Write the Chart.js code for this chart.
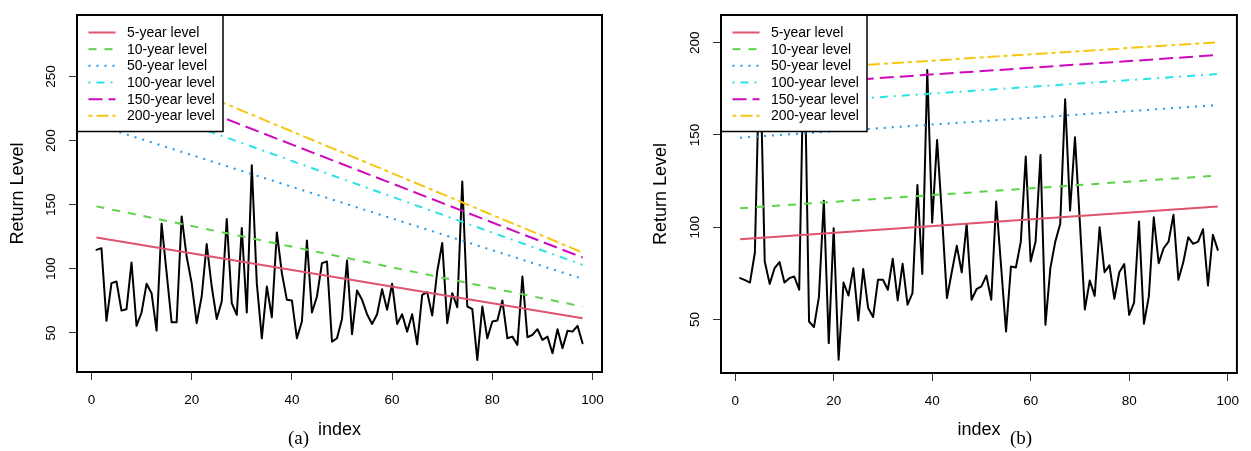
<!DOCTYPE html>
<html>
<head>
<meta charset="utf-8">
<script src="https://cdn.jsdelivr.net/npm/chart.js@4.4.0/dist/chart.umd.min.js"></script>
<style>
  body { margin: 0; background: #fff; width: 1251px; height: 451px; overflow: hidden; position: relative; }
  .panel { position: absolute; top: 0; height: 451px; }
  #panelA { left: 0; width: 625px; }
  #panelB { left: 625px; width: 626px; }
  .cap { position: absolute; font-family: "Liberation Serif", "Times New Roman", serif; font-size: 19px; color: #000; }
</style>
</head>
<body>
<div class="panel" id="panelA"><canvas id="chartA" width="625" height="451"></canvas></div>
<div class="panel" id="panelB"><canvas id="chartB" width="626" height="451"></canvas></div>
<div class="cap" style="left:288px; top:427px;">(a)</div>
<div class="cap" style="left:1010px; top:427px;">(b)</div>
<script>
// ---- data ----
const index = Array.from({ length: 98 }, (_, k) => k + 1);
const levelIndex = [1, 98];   // return-level lines are straight, so start and end only

// panel (a)
const seriesA = [
  114.8, 116.1, 59.4, 88.8, 90.1, 67.4, 68.5, 104.9, 55.5, 65.9,
  88.3, 81.0, 51.8, 135.2, 97.0, 58.3, 58.3, 140.9, 109.6, 88.8,
  57.6, 78.4, 119.3, 86.2, 60.9, 74.5, 138.8, 73.2, 64.1, 131.8,
  65.9, 180.7, 88.8, 45.8, 86.2, 62.2, 128.4, 96.6, 75.8, 75.3,
  45.8, 58.9, 122.1, 65.9, 78.4, 104.4, 105.7, 43.2, 45.8, 60.9,
  106.5, 49.0, 83.1, 75.8, 64.6, 57.0, 64.6, 84.1, 68.0, 88.3,
  57.0, 64.6, 51.0, 64.6, 41.1, 79.7, 81.8, 63.5, 97.9, 120.1,
  57.6, 81.0, 70.0, 168.2, 70.6, 68.5, 28.9, 70.6, 45.8, 58.9,
  59.6, 75.3, 45.8, 47.1, 40.6, 94.0, 46.6, 48.4, 52.9, 44.5,
  47.1, 34.1, 52.9, 38.0, 51.6, 51.0, 55.5, 41.9
];
const lev5A = [124.5, 61.5];
const lev10A = [148.7, 70.5];
const lev50A = [212.3, 92.2];
const lev100A = [238.7, 103.1];
const lev150A = [256.2, 108.8];
const lev200A = [270.7, 112.7];
const yTicksA = [50, 100, 150, 200, 250];

// panel (b)
const seriesB = [
  72.4, 71.3, 70.0, 86.3, 200.0, 81.4, 69.3, 77.8, 81.1, 70.0,
  72.4, 73.3, 66.1, 207.0, 48.9, 45.9, 62.1, 114.4, 37.2, 99.5,
  28.2, 70.0, 63.0, 77.8, 49.5, 77.3, 56.2, 51.3, 71.5, 71.5,
  66.1, 82.9, 60.3, 80.2, 58.0, 64.3, 122.9, 74.7, 185.2, 102.5,
  147.3, 105.8, 61.6, 76.0, 89.9, 75.5, 101.8, 60.7, 66.4, 67.9,
  73.8, 60.7, 113.9, 78.7, 43.5, 78.7, 78.2, 92.2, 138.3, 81.4,
  92.2, 139.2, 47.1, 77.8, 92.2, 101.8, 169.3, 109.0, 148.7, 102.2,
  55.4, 71.1, 62.8, 100.0, 75.6, 79.3, 61.2, 75.6, 80.0, 52.5,
  59.2, 103.1, 47.7, 62.5, 105.4, 80.5, 88.6, 92.2, 106.7, 71.5,
  81.1, 94.6, 91.0, 92.2, 98.9, 68.4, 95.9, 87.7
];
const lev5B = [93.5, 111.2];
const lev10B = [110.3, 128.0];
const lev50B = [148.5, 166.2];
const lev100B = [165.3, 183.0];
const lev150B = [175.7, 193.3];
const lev200B = [183.6, 200.2];
const yTicksB = [50, 100, 150, 200];

const xTicks = [0, 20, 40, 60, 80, 100];
const levelLabels = ['5-year level', '10-year level', '50-year level', '100-year level', '150-year level', '200-year level'];

// R default palette and lty patterns (scaled for lwd = 2)
const levelColors = ['#DF536B', '#61D04F', '#2297E6', '#28E2E5', '#CD0BBC', '#F5C710'];
const levelDashes = [[], [8, 8], [2, 6], [2, 6, 8, 6], [14, 6], [4, 4, 12, 4]];

Chart.defaults.font.family = '"Liberation Sans", Arial, sans-serif';
Chart.defaults.color = '#000';

function toPoints(xs, ys) {
    return xs.map((x, k) => ({ x: x, y: ys[k] }));
}

// R-like legend box in the top-left corner of the plot
const rLegend = {
    id: 'rLegend',
    afterDatasetsDraw(chart) {
        const { ctx, chartArea } = chart;
        const x0 = chartArea.left, y0 = chartArea.top;
        ctx.save();
        ctx.fillStyle = '#fff';
        ctx.fillRect(x0, y0, 146, 116.5);
        ctx.lineWidth = 1.5;
        ctx.strokeStyle = '#000';
        ctx.strokeRect(x0, y0, 146, 116.5);
        let row = 0;
        chart.data.datasets.forEach(ds => {
            if (!ds.label) return;
            const y = y0 + 17.5 + row * 16.67;
            ctx.beginPath();
            ctx.setLineDash(ds.borderDash || []);
            ctx.strokeStyle = ds.borderColor;
            ctx.lineWidth = ds.borderWidth;
            ctx.moveTo(x0 + 11.5, y);
            ctx.lineTo(x0 + 38.5, y);
            ctx.stroke();
            ctx.setLineDash([]);
            ctx.fillStyle = '#000';
            ctx.font = '14px "Liberation Sans", Arial, sans-serif';
            ctx.textBaseline = 'middle';
            ctx.fillText(ds.label, x0 + 50, y + 0.5);
            row++;
        });
        ctx.restore();
    }
};

// box around plot + rotated y tick labels (R style)
const rFrame = {
    id: 'rFrame',
    afterDraw(chart) {
        const { ctx, chartArea: a, scales } = chart;
        ctx.save();
        ctx.lineWidth = 2;
        ctx.strokeStyle = '#000';
        ctx.strokeRect(a.left, a.top, a.right - a.left, a.bottom - a.top);
        ctx.font = '13.5px "Liberation Sans", Arial, sans-serif';
        ctx.fillStyle = '#000';
        ctx.textAlign = 'center';
        ctx.textBaseline = 'middle';
        scales.y.ticks.forEach(t => {
            const py = scales.y.getPixelForValue(t.value);
            ctx.save();
            ctx.translate(a.left - 25.5, py);
            ctx.rotate(-Math.PI / 2);
            ctx.fillText(String(t.value), 0, 0);
            ctx.restore();
        });
        ctx.restore();
    }
};

function makeChart(canvasId, series, levels, yTicks, yMin, yMax, yAxisWidth, xAxisHeight, padRight, yTitlePad) {
    const datasets = [{
        label: '',
        data: toPoints(index, series),
        borderColor: '#000',
        borderWidth: 2,
        borderJoinStyle: 'round',
        borderCapStyle: 'round',
        pointRadius: 0,
        tension: 0,
        order: 10
    }];
    levels.forEach((lv, k) => {
        datasets.push({
            label: levelLabels[k],
            data: toPoints(levelIndex, lv),
            borderColor: levelColors[k],
            borderWidth: 2,
            borderDash: levelDashes[k],
            pointRadius: 0,
            tension: 0,
            order: k
        });
    });

    return new Chart(document.getElementById(canvasId), {
        type: 'line',
        data: { datasets: datasets },
        options: {
            responsive: false,
            animation: false,
            devicePixelRatio: 1,
            layout: { padding: { left: 0, top: 15, right: padRight, bottom: 0 } },
            plugins: { legend: { display: false }, tooltip: { enabled: false } },
            scales: {
                x: {
                    type: 'linear',
                    min: -2.88,
                    max: 101.88,
                    afterBuildTicks: s => { s.ticks = xTicks.map(v => ({ value: v })); },
                    afterFit: s => { s.height = xAxisHeight; },
                    border: { display: false },
                    grid: { drawOnChartArea: false, drawTicks: true, tickLength: 8, color: '#333' },
                    ticks: { font: { size: 13.5 }, color: '#000', padding: 12, maxRotation: 0, autoSkip: false },
                    title: { display: true, text: 'index', font: { size: 18 }, padding: { top: 0, bottom: 10 } }
                },
                y: {
                    type: 'linear',
                    min: yMin,
                    max: yMax,
                    afterBuildTicks: s => { s.ticks = yTicks.map(v => ({ value: v })); },
                    afterFit: s => { s.width = yAxisWidth; },
                    border: { display: false },
                    grid: { drawOnChartArea: false, drawTicks: true, tickLength: 8, color: '#333' },
                    ticks: { display: false },
                    title: { display: true, text: 'Return Level', font: { size: 18 }, padding: { top: yTitlePad, bottom: 0 } }
                }
            }
        },
        plugins: [rLegend, rFrame]
    });
}

makeChart('chartA', seriesA, [lev5A, lev10A, lev50A, lev100A, lev150A, lev200A], yTicksA, 19.5, 298, 77, 79, 23, 7.5);
makeChart('chartB', seriesB, [lev5B, lev10B, lev50B, lev100B, lev150B, lev200B], yTicksB, 21, 215, 96, 78, 5, 25);
</script>
</body>
</html>
